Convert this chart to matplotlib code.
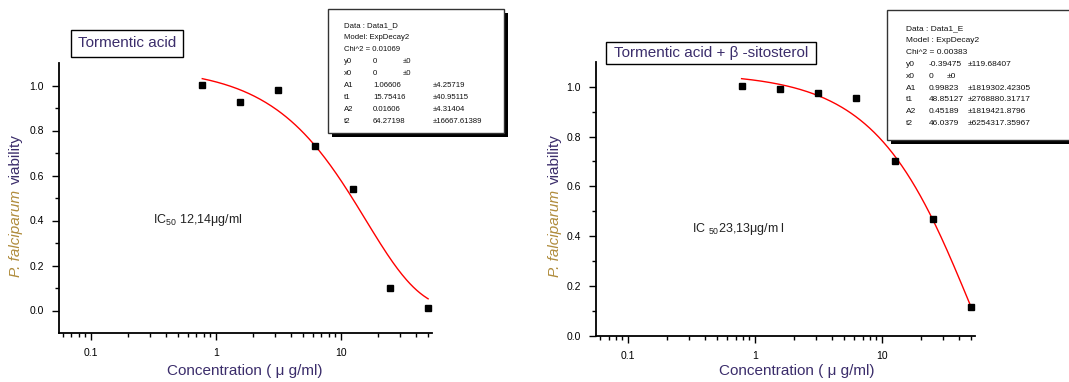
import numpy as np
import matplotlib
matplotlib.use('Agg')
import matplotlib.pyplot as plt
from matplotlib.patches import Rectangle
from matplotlib.ticker import FixedLocator, FuncFormatter, NullFormatter, LogLocator

plt.rcParams['font.family'] = ['Liberation Sans', 'DejaVu Sans']
plt.rcParams['mathtext.default'] = 'regular'

# ---- data ----
conc = [0.78, 1.5625, 3.125, 6.25, 12.5, 25, 50]
viab_ta = [1.004, 0.925, 0.978, 0.731, 0.538, 0.102, 0.012]
viab_tab = [1.001, 0.992, 0.975, 0.955, 0.703, 0.468, 0.116]

# ExpDecay2 fit parameters shown in the chart
fit_ta = dict(y0=0.0, x0=0.0, A1=1.06606, t1=15.75416, A2=0.01606, t2=64.27198)
fit_tab = dict(y0=-0.39475, x0=0.0, A1=0.99823, t1=48.85127, A2=0.45189, t2=46.0379)

box_ta = [("Data : Data1_D", None, None),
          ("Model: ExpDecay2", None, None),
          ("Chi^2 = 0.01069", None, None),
          ("y0", "0", "±0"),
          ("x0", "0", "±0"),
          ("A1", "1.06606", "±4.25719"),
          ("t1", "15.75416", "±40.95115"),
          ("A2", "0.01606", "±4.31404"),
          ("t2", "64.27198", "±16667.61389")]
box_tab = [("Data : Data1_E", None, None),
           ("Model : ExpDecay2", None, None),
           ("Chi^2 = 0.00383", None, None),
           ("y0", "-0.39475", "±119.68407"),
           ("x0", "0", "±0"),
           ("A1", "0.99823", "±1819302.42305"),
           ("t1", "48.85127", "±2768880.31717"),
           ("A2", "0.45189", "±1819421.8796"),
           ("t2", "46.0379", "±6254317.35967")]

titles = ["Tormentic acid", "Tormentic acid + β -sitosterol"]
ic50_labels = ["IC$_{50}$ 12,14μg/ml", "IC $_{50}$23,13μg/m l"]
x_ticks = [0.1, 1, 10]
y_ticks = [0.0, 0.2, 0.4, 0.6, 0.8, 1.0]

W, H = 1069, 382
PURPLE = '#3b2d6b'
GOLD = '#b08c3c'

def fx(px):
    return px / W

def fy(py):
    return 1 - py / H

def expdecay2(x, p):
    x = np.asarray(x)
    return (p['y0'] + p['A1'] * np.exp(-(x - p['x0']) / p['t1'])
            + p['A2'] * np.exp(-(x - p['x0']) / p['t2']))

fig = plt.figure(figsize=(W / 100, H / 100), dpi=100)
fig.patch.set_facecolor('white')

panels = [
    dict(rect=(59, 63, 432, 333), ylim=(-0.1, 1.1), y=viab_ta, fit=fit_ta, rows=box_ta,
         title_box=(71, 30, 183, 56.7), ic=(152.7, 220), box=(328, 9, 504, 133),
         box_rows=(26, 11.9), box_cols=(344, 373, 403, 433), box_fs=5.6,
         ylab_x=16, ylab_bottom=277, xlab_cx=245),
    dict(rect=(596, 61.7, 975, 336), ylim=(0.0, 1.1), y=viab_tab, fit=fit_tab, rows=box_tab,
         title_box=(606, 42, 816, 64), ic=(691.7, 229), box=(887, 10, 1080, 140),
         box_rows=(28.5, 11.9), box_cols=(906, 929, 947, 968), box_fs=6.0,
         ylab_x=555, ylab_bottom=277, xlab_cx=797),
]

for i, pn in enumerate(panels):
    l, t, r, b = pn['rect']
    ax = fig.add_axes([fx(l), fy(b), (r - l) / W, (b - t) / H])
    ax.set_xscale('log')
    ax.set_xlim(0.0557, 53.7)
    ax.set_ylim(*pn['ylim'])
    for s in ['top', 'right']:
        ax.spines[s].set_visible(False)
    for s in ['left', 'bottom']:
        ax.spines[s].set_linewidth(1.3)
    ax.xaxis.set_major_locator(FixedLocator(x_ticks))
    ax.xaxis.set_major_formatter(FuncFormatter(lambda v, _: f"{v:g}"))
    ax.xaxis.set_minor_locator(LogLocator(base=10, subs=np.arange(2, 10)))
    ax.xaxis.set_minor_formatter(NullFormatter())
    ax.yaxis.set_major_locator(FixedLocator(y_ticks))
    ax.yaxis.set_major_formatter(FuncFormatter(lambda v, _: f"{v:.1f}"))
    ax.yaxis.set_minor_locator(FixedLocator([0.1, 0.3, 0.5, 0.7, 0.9]))
    ax.tick_params(which='major', direction='out', length=5, width=1, labelsize=7.5, pad=6)
    ax.tick_params(which='minor', direction='out', length=3, width=1)

    xs = np.logspace(np.log10(conc[0]), np.log10(conc[-1]), 200)
    ax.plot(xs, expdecay2(xs, pn['fit']), color='red', lw=1)
    ax.plot(conc, pn['y'], 's', color='black', ms=4.5, clip_on=False)

    fig.text(fx(pn['xlab_cx']), fy(371), "Concentration ( μ g/ml)", fontsize=11,
             color=PURPLE, ha='center', va='center')

    # title box
    bx0, by0, bx1, by1 = pn['title_box']
    fig.patches.append(Rectangle((fx(bx0), fy(by1)), (bx1 - bx0) / W, (by1 - by0) / H,
                                 transform=fig.transFigure, fill=False, ec='black', lw=1))
    fig.text(fx((bx0 + bx1) / 2), fy((by0 + by1) / 2), titles[i], fontsize=11,
             color=PURPLE, ha='center', va='center')

    # IC50 annotation
    fig.text(fx(pn['ic'][0]), fy(pn['ic'][1]), ic50_labels[i], fontsize=9,
             color='#222222', ha='left', va='center')

    # fit parameter box with shadow
    x0b, y0b, x1b, y1b = pn['box']
    fig.patches.append(Rectangle((fx(x0b + 4), fy(y1b + 4)), (x1b - x0b) / W, (y1b - y0b) / H,
                                 transform=fig.transFigure, fc='black', ec='black', lw=0))
    fig.patches.append(Rectangle((fx(x0b), fy(y1b)), (x1b - x0b) / W, (y1b - y0b) / H,
                                 transform=fig.transFigure, fc='white', ec='#333333', lw=1))
    r0, dr = pn['box_rows']
    c0, c1, c2, c3 = pn['box_cols']
    for k, (a, bv, cv) in enumerate(pn['rows']):
        yy = fy(r0 + k * dr)
        fig.text(fx(c0), yy, a, fontsize=pn['box_fs'], ha='left', va='center', color='#111111')
        if bv is not None:
            fig.text(fx(c1), yy, bv, fontsize=pn['box_fs'], ha='left', va='center', color='#111111')
            cxp = c2 if cv == "±0" else c3
            fig.text(fx(cxp), yy, cv, fontsize=pn['box_fs'], ha='left', va='center', color='#111111')

# two-coloured y labels
fig.canvas.draw()
renderer = fig.canvas.get_renderer()
for pn in panels:
    t1 = fig.text(fx(pn['ylab_x']), fy(pn['ylab_bottom']), "P. falciparum", fontsize=11,
                  style='italic', color=GOLD, rotation=90, ha='center', va='bottom')
    ext = t1.get_window_extent(renderer=renderer)
    top_px = ext.y1 / fig.dpi * 100
    fig.text(fx(pn['ylab_x']), (top_px + 6) / H, "viability", fontsize=11,
             color=PURPLE, rotation=90, ha='center', va='bottom')

fig.savefig('out.png', dpi=100, facecolor='white')
